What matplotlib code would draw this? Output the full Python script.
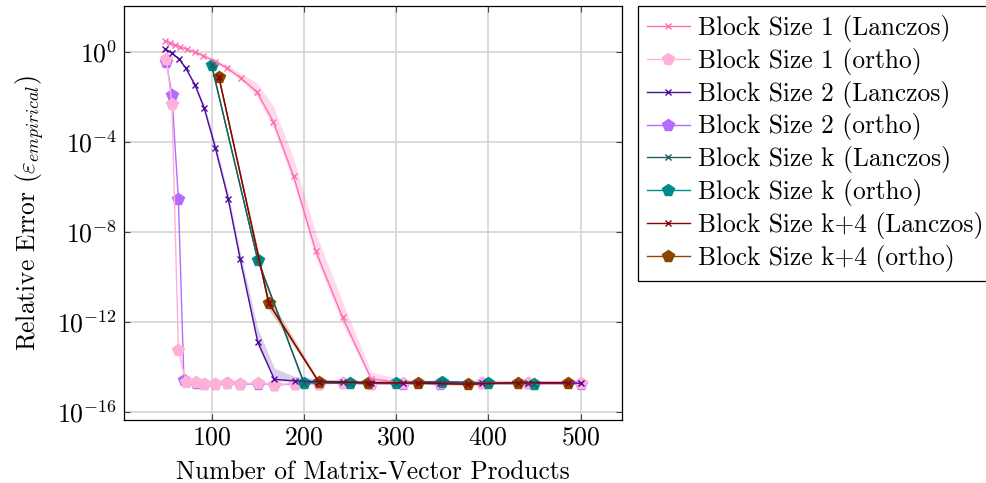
import numpy as np
import matplotlib
matplotlib.use("Agg")
import matplotlib.pyplot as plt
from matplotlib.ticker import NullLocator, FixedLocator

plt.rcParams['font.family'] = ['cmr10', 'DejaVu Sans']
plt.rcParams['mathtext.fontset'] = 'cm'
plt.rcParams['axes.unicode_minus'] = False
plt.rcParams['axes.formatter.use_mathtext'] = True

# Block size 1 (Lanczos)
l1_x = [50, 55, 60, 66, 73, 82, 91, 104, 117, 132, 149, 167, 189, 213, 242, 273, 308, 348, 394, 443, 500]
l1_y = [3.2, 2.5, 2.0, 1.7, 1.3, 0.98, 0.69, 0.37, 0.19, 0.068, 0.017, 7.9e-4, 2.9e-6, 1.4e-9,
        1.6e-12, 3.0e-15, 1.9e-15, 1.9e-15, 2.0e-15, 1.8e-15, 1.9e-15]
l1_hi = [0.03, 0.03, 0.03, 0.04, 0.05, 0.06, 0.07, 0.1, 0.15, 0.2, 0.4, 0.7, 0.8, 0.8, 0.7, 0.3,
         0.15, 0.12, 0.12, 0.12, 0.12]
l1_lo = [0.03, 0.03, 0.03, 0.04, 0.05, 0.06, 0.07, 0.08, 0.1, 0.12, 0.2, 0.3, 0.3, 0.3, 0.3, 0.1,
         0.05, 0.05, 0.05, 0.05, 0.05]

# Block size 1 (ortho)
o1_x = [51, 57, 64, 72, 83, 92, 104, 117, 131, 150, 168, 190, 216, 242, 273, 308, 348, 393, 443, 500]
o1_y = [0.49, 4.9e-3, 5.8e-14, 2.2e-15, 2.1e-15, 1.8e-15, 1.8e-15, 2.0e-15, 1.8e-15, 1.9e-15,
        1.6e-15, 1.8e-15, 1.8e-15, 2.0e-15, 1.7e-15, 1.9e-15, 1.9e-15, 1.95e-15, 1.95e-15, 1.9e-15]

# Block size 2 (Lanczos)
l2_x = [50, 57, 65, 72, 82, 92, 104, 118, 131, 150, 168, 190, 216, 242, 273, 308, 348, 393, 443, 500]
l2_y = [1.35, 0.87, 0.47, 0.19, 0.034, 3.2e-3, 5.6e-5, 3.0e-7, 6.3e-10, 1.3e-13, 2.8e-15, 2.4e-15,
        2.2e-15, 2.1e-15, 2.0e-15, 2.0e-15, 2.0e-15, 1.9e-15, 1.9e-15, 1.9e-15]
l2_hi = [0.02, 0.03, 0.04, 0.06, 0.1, 0.15, 0.2, 0.25, 0.3, 0.6, 0.5, 0.2, 0.12, 0.1, 0.1, 0.1,
         0.1, 0.1, 0.1, 0.1]
l2_lo = [0.02, 0.03, 0.04, 0.06, 0.1, 0.15, 0.2, 0.2, 0.2, 0.2, 0.05, 0.05, 0.05, 0.05, 0.05,
         0.05, 0.05, 0.05, 0.05, 0.05]

# Block size 2 (ortho)
o2_x = [51, 57, 64, 70, 83, 92, 104, 117, 131, 150, 168, 190, 216, 242, 273, 308, 348, 393, 443, 500]
o2_y = [0.37, 0.012, 2.8e-7, 2.6e-15, 1.9e-15, 1.7e-15, 1.7e-15, 1.9e-15, 1.7e-15, 1.8e-15,
        1.6e-15, 1.7e-15, 1.8e-15, 1.9e-15, 1.7e-15, 1.8e-15, 1.8e-15, 1.9e-15, 1.9e-15, 1.8e-15]

# Block size k
k_x = [100, 150, 200, 250, 300, 350, 400, 450]
lk_y = [0.26, 5.8e-10, 2.0e-15, 1.9e-15, 2.0e-15, 2.2e-15, 1.9e-15, 1.8e-15]
ok_y = [0.26, 5.8e-10, 2.0e-15, 1.9e-15, 2.0e-15, 2.2e-15, 1.9e-15, 1.8e-15]

# Block size k+4
k4_x = [108, 162, 216, 270, 324, 378, 432, 486]
lk4_y = [0.074, 6.8e-12, 2.2e-15, 2.0e-15, 1.9e-15, 1.7e-15, 2.0e-15, 2.0e-15]
ok4_y = [0.074, 6.8e-12, 2.2e-15, 2.0e-15, 1.9e-15, 1.7e-15, 2.0e-15, 2.0e-15]
k4_hi = [0.0, 0.3, 0.1, 0.05, 0.05, 0.05, 0.05, 0.05]
k4_lo = [0.0, 0.3, 0.05, 0.05, 0.05, 0.05, 0.05, 0.05]

c_l1, c_o1 = '#ff6eb4', '#ffb0d8'
c_l2, c_o2 = '#4c0a9e', '#b56bff'
c_lk, c_ok = '#1e5e58', '#008b8b'
c_lk4, c_ok4 = '#8b0000', '#8b4500'


def band(ax, x, y, lo, hi, color, alpha):
    y = np.array(y)
    ax.fill_between(x, y / 10 ** np.array(lo), y * 10 ** np.array(hi),
                    color=color, alpha=alpha, lw=0, zorder=1)


fig = plt.figure(figsize=(9.87, 4.83), dpi=100)
ax = fig.add_axes([0.1256, 0.1304, 0.5046, 0.8572])

band(ax, l1_x, l1_y, l1_lo, l1_hi, c_l1, 0.25)
band(ax, l2_x, l2_y, l2_lo, l2_hi, c_l2, 0.2)
band(ax, k4_x, lk4_y, k4_lo, k4_hi, c_ok4, 0.25)

h = []
h += ax.plot(l1_x, l1_y, color=c_l1, lw=1, marker='x', ms=5, mew=1, zorder=5,
             label='Block Size 1 (Lanczos)')
h += ax.plot(o1_x, o1_y, color=c_o1, lw=1, marker='p', ms=8.5, zorder=4,
             label='Block Size 1 (ortho)')
h += ax.plot(l2_x, l2_y, color=c_l2, lw=1, marker='x', ms=5, mew=1, zorder=5,
             label='Block Size 2 (Lanczos)')
h += ax.plot(o2_x, o2_y, color=c_o2, lw=1, marker='p', ms=8.5, zorder=3,
             label='Block Size 2 (ortho)')
h += ax.plot(k_x, lk_y, color=c_lk, lw=1, marker='x', ms=5, mew=1, zorder=5,
             label='Block Size k (Lanczos)')
h += ax.plot(k_x, ok_y, color=c_ok, lw=1, marker='p', ms=8.5, zorder=4,
             label='Block Size k (ortho)')
h += ax.plot(k4_x, lk4_y, color=c_lk4, lw=1, marker='x', ms=5, mew=1, zorder=5,
             label='Block Size k+4 (Lanczos)')
h += ax.plot(k4_x, ok4_y, color=c_ok4, lw=1, marker='p', ms=8.5, zorder=4,
             label='Block Size k+4 (ortho)')

ax.set_yscale('log')
ax.set_xlim(5, 545)
ax.set_ylim(10 ** -16.36, 10 ** 2.04)
ax.set_xticks([100, 200, 300, 400, 500])
ax.yaxis.set_major_locator(FixedLocator([1e0, 1e-4, 1e-8, 1e-12, 1e-16]))
ax.yaxis.set_minor_locator(NullLocator())
ax.set_yticklabels([r'$10^{0}$', r'$10^{-4}$', r'$10^{-8}$', r'$10^{-12}$', r'$10^{-16}$'])
ax.tick_params(direction='in', top=True, right=True, length=4, width=0.8,
               labelsize=18.5, color='#444444', pad=5)
ax.tick_params(axis='x', pad=4)
ax.grid(True, color='#d4d4d4', lw=1.2)
ax.set_axisbelow(True)
for s in ax.spines.values():
    s.set_linewidth(0.9)

ax.set_xlabel('Number of Matrix-Vector Products', fontsize=18.3, labelpad=8)
ax.set_ylabel(r'Relative Error ($\varepsilon_{empirical}$)', fontsize=18.3, labelpad=8)

leg = ax.legend(handles=h, loc='upper left', bbox_to_anchor=(1.032, 1.0),
                fontsize=18.3, frameon=True, fancybox=False, edgecolor='black',
                framealpha=1, borderaxespad=0, handlelength=1.7, handletextpad=0.3,
                labelspacing=0.23, borderpad=0.35)
leg.get_frame().set_linewidth(0.9)

fig.savefig('out.png', dpi=100)
